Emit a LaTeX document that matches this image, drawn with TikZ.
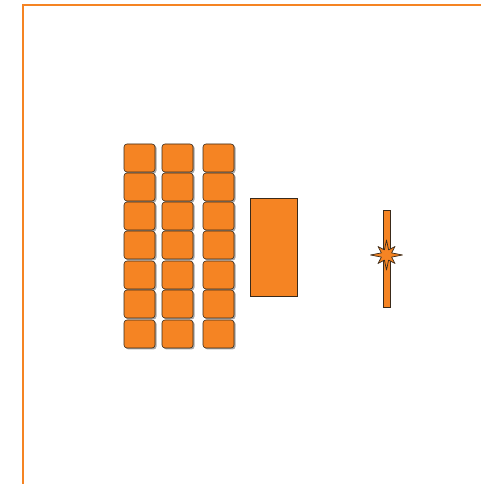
\documentclass[tikz,border=0pt]{standalone}
\usetikzlibrary{calc}
\definecolor{org}{HTML}{F58423}
\definecolor{edge}{HTML}{3A2A1A}
\tikzset{
  seat/.style={fill=org, draw=edge, line width=0.6pt, rounded corners=3pt},
  seatshadow/.style={fill=gray!70, rounded corners=3pt},
  frameline/.style={draw=org, line width=1.6pt},
  block/.style={fill=org, draw=edge, line width=0.7pt},
}
\begin{document}
\begin{tikzpicture}[x=1pt,y=1pt]
\useasboundingbox (0,0) rectangle (481,484);
% frame
\coordinate (f1) at (23,0);
\coordinate (f2) at (23,479);
\coordinate (f3) at (481,479);
\draw[frameline] (f1) -- (f2) -- (f3);
% seats
\foreach \cx in {124,162,203}{
  \foreach \ry in {144,173,202,231,261,290,320}{
    \fill[seatshadow] (\cx+1.5,484-\ry-29.5) rectangle (\cx+32.5,484-\ry-1);
    \draw[seat] (\cx,484-\ry-28) rectangle (\cx+31,484-\ry);
  }
}
% table
\node[block, minimum width=47pt, minimum height=98pt, inner sep=0pt] (table) at (273.5,237) {};
% pole
\node[block, minimum width=7pt, minimum height=97pt, inner sep=0pt] (pole) at (386.5,225.5) {};
% star
\coordinate (sc) at (386.5,229);
\draw[block, line join=round] (sc) ++(0,15)
  \foreach \a/\r in {67.5/5.5, 45/12, 22.5/5.5, 0/16, -22.5/5.5, -45/12, -67.5/5.5, -90/15, -112.5/5.5, -135/12, -157.5/5.5, 180/16, 157.5/5.5, 135/12, 112.5/5.5}{
    -- ($(sc)+(\a:\r)$)
  } -- cycle;
\end{tikzpicture}
\end{document}
